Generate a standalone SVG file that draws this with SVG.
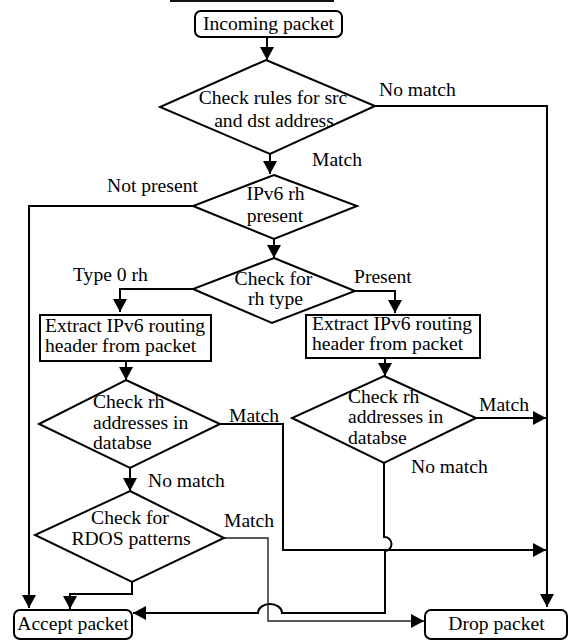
<svg xmlns="http://www.w3.org/2000/svg" width="569" height="641" viewBox="0 0 569 641">
<style>
.t{font-family:'Liberation Serif','DejaVu Serif','Times New Roman',Times,serif;font-size:19.6px;fill:#000}
.c{text-anchor:middle}
.shape{fill:#fff;stroke:#000;stroke-width:2}
.conn{fill:none;stroke:#000;stroke-width:2}
.thin{fill:none;stroke:#222;stroke-width:1.4}
</style>
<defs>
<marker id="ah" markerUnits="userSpaceOnUse" markerWidth="14" markerHeight="14" refX="13" refY="7" orient="auto">
<path d="M0,0 L13,7 L0,14 z" fill="#000"/>
</marker>
</defs>
<rect width="569" height="641" fill="#fff"/>
<rect x="170" y="0" width="164" height="2" fill="#111"/>

<g id="connectors">
<path class="conn" d="M267,37 V60" marker-end="url(#ah)"/>
<path class="conn" d="M375,106 H547 V607" marker-end="url(#ah)"/>
<path class="conn" d="M270,154 V174" marker-end="url(#ah)"/>
<path class="conn" d="M193,206 H29 V608" marker-end="url(#ah)"/>
<path class="conn" d="M274,239 V258" marker-end="url(#ah)"/>
<path class="conn" d="M193,289 H120 V312" marker-end="url(#ah)"/>
<path class="conn" d="M355,291 H395 V313" marker-end="url(#ah)"/>
<path class="conn" d="M126,361 V380" marker-end="url(#ah)"/>
<path class="conn" d="M385,358 V376" marker-end="url(#ah)"/>
<path class="conn" d="M476,418 H546" marker-end="url(#ah)"/>
<path class="conn" d="M220,424 H283 V550 H546" marker-end="url(#ah)"/>
<path class="conn" d="M130,468 V491" marker-end="url(#ah)"/>
<path class="conn" d="M384,463 V537 A7,7 0 0 1 385,551 V613 H282 A12,9 0 0 0 258,613 H133" marker-end="url(#ah)"/>
<path class="thin" d="M224,538 H268 V621 H424" marker-end="url(#ah)"/>
<path class="conn" d="M132,582 V594 H70 V609" marker-end="url(#ah)"/>
</g>

<g class="t" font-family="Liberation Serif, DejaVu Serif, serif">
<g id="incoming">
<rect class="shape" x="195" y="11" width="147" height="26" rx="6"/>
<text class="c" x="268.5" y="30">Incoming packet</text>
</g>

<g id="check-rules">
<polygon class="shape" points="266,60 375,106 270,154 160,107"/>
<text class="c" x="273" y="104">Check rules for src</text>
<text class="c" x="274" y="127">and dst address</text>
</g>

<g id="rh-present">
<polygon class="shape" points="274,175 357,206 274,239 193,206"/>
<text class="c" x="275.5" y="200">IPv6 rh</text>
<text class="c" x="275" y="222">present</text>
</g>

<g id="rh-type">
<polygon class="shape" points="274,258 355,291 272,323 193,289"/>
<text class="c" x="273.5" y="285">Check for</text>
<text class="c" x="275.5" y="305">rh type</text>
</g>

<g id="extract-left">
<rect class="shape" x="40" y="315" width="171" height="46"/>
<text x="45" y="332">Extract IPv6 routing</text>
<text x="45" y="352">header from packet</text>
</g>

<g id="extract-right">
<rect class="shape" x="306" y="315" width="174" height="43"/>
<text x="312" y="330">Extract IPv6 routing</text>
<text x="312" y="350">header from packet</text>
</g>

<g id="check-rh-left">
<polygon class="shape" points="126,380 220,424 130,468 39,424"/>
<text x="93" y="408">Check rh</text>
<text x="93" y="429">addresses in</text>
<text x="93" y="449">databse</text>
</g>

<g id="check-rh-right">
<polygon class="shape" points="384,376 476,418 384,463 292,418"/>
<text x="348" y="403">Check rh</text>
<text x="348" y="423">addresses in</text>
<text x="348" y="444">databse</text>
</g>

<g id="rdos">
<polygon class="shape" points="130,491 224,538 132,582 35,535"/>
<text class="c" x="130" y="524">Check for</text>
<text class="c" x="131" y="545">RDOS patterns</text>
</g>

<g id="accept">
<rect class="shape" x="14" y="610" width="118" height="29" rx="6"/>
<text class="c" x="73" y="630">Accept packet</text>
</g>

<g id="drop">
<rect class="shape" x="425" y="610" width="142" height="29" rx="6"/>
<text class="c" x="496.5" y="630">Drop packet</text>
</g>

<g id="labels">
<text x="379" y="96">No match</text>
<text x="312" y="166">Match</text>
<text x="107" y="192">Not present</text>
<text x="73" y="281">Type 0 rh</text>
<text x="354" y="283">Present</text>
<text x="229" y="422">Match</text>
<text x="479" y="411">Match</text>
<text x="411" y="473">No match</text>
<text x="148" y="487">No match</text>
<text x="224" y="527">Match</text>
</g>
</g>
</svg>
